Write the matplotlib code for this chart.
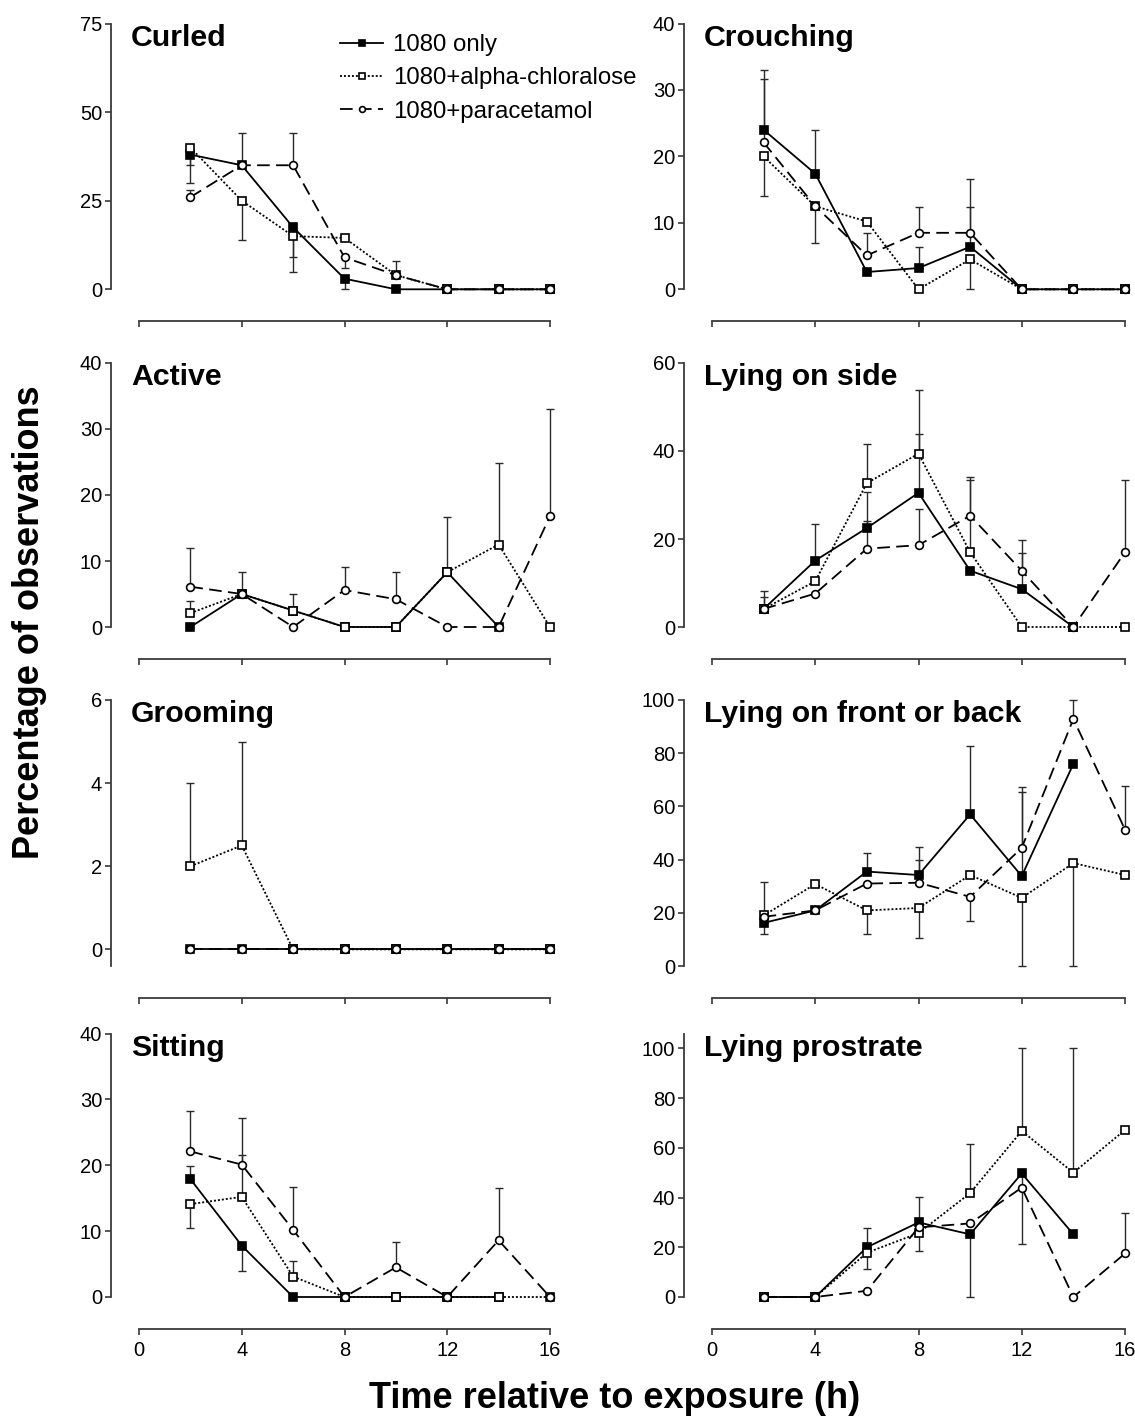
import numpy as np
import matplotlib.pyplot as plt

plt.rcParams['font.family'] = ['Liberation Sans', 'DejaVu Sans']

nan = np.nan
hours = [2, 4, 6, 8, 10, 12, 14, 16]
series_labels = ['1080 only', '1080+alpha-chloralose', '1080+paracetamol']

# values (percent of observations); bars = (series, hour, bar end)
curled_only = [38, 35, 17.5, 3, 0, 0, 0, 0]
curled_alpha = [40, 25, 15, 14.5, 4, 0, 0, 0]
curled_para = [26, 35, 35, 9, 4, 0, 0, 0]
curled_bars = [('only', 2, 30), ('alpha', 2, 35), ('para', 2, 28), ('para', 4, 44),
               ('alpha', 4, 14), ('para', 6, 44), ('alpha', 6, 9), ('only', 6, 5),
               ('para', 8, 6), ('only', 8, 0), ('alpha', 10, 8)]

crouch_only = [24, 17.4, 2.6, 3.2, 6.4, 0, 0, 0]
crouch_alpha = [20, 12.5, 10.2, 0, 4.5, 0, 0, 0]
crouch_para = [22.1, 12.5, 5.1, 8.5, 8.5, 0, 0, 0]
crouch_bars = [('only', 2, 33), ('para', 2, 31.7), ('alpha', 2, 14), ('only', 4, 24),
               ('alpha', 4, 7), ('para', 6, 8.4), ('para', 8, 12.4), ('only', 8, 6.3),
               ('para', 10, 16.6), ('only', 10, 12.4), ('alpha', 10, 0)]

active_only = [0, 5, 2.5, 0, 0, 8.3, 0, nan]
active_alpha = [2.1, 5, 2.5, 0, 0, 8.3, 12.5, 0]
active_para = [6.1, 5, 0, 5.6, 4.2, 0, 0, 16.8]
active_bars = [('para', 2, 12), ('alpha', 2, 4), ('only', 4, 8.3), ('only', 6, 5),
               ('para', 8, 9.1), ('para', 10, 8.3), ('only', 12, 16.6),
               ('alpha', 14, 24.9), ('para', 16, 33)]

side_only = [4.1, 15.1, 22.5, 30.5, 12.8, 8.6, 0, nan]
side_alpha = [4.1, 10.4, 32.7, 39.4, 17, 0, 0, 0]
side_para = [4.1, 7.6, 17.8, 18.6, 25.3, 12.8, 0, 17]
side_bars = [('only', 2, 8.1), ('alpha', 2, 6.8), ('only', 4, 23.5), ('alpha', 6, 41.7),
             ('only', 6, 30.6), ('para', 6, 24), ('alpha', 8, 53.8), ('only', 8, 43.9),
             ('para', 8, 26.9), ('para', 10, 34.1), ('alpha', 10, 33.5),
             ('para', 12, 19.7), ('only', 12, 16.8), ('para', 16, 33.5)]

groom_only = [0, 0, 0, 0, 0, 0, 0, 0]
groom_alpha = [2, 2.5, 0, 0, 0, 0, 0, 0]
groom_para = [0, 0, 0, 0, 0, 0, 0, 0]
groom_bars = [('alpha', 2, 4), ('alpha', 4, 5)]

front_only = [16.2, 20.9, 35.5, 34.2, 57, 33.8, 76, nan]
front_alpha = [19, 30.8, 20.9, 21.8, 34.2, 25.6, 38.7, 34.2]
front_para = [18.5, 20.9, 31, 31.3, 26, 44.4, 92.9, 51.3]
front_bars = [('alpha', 2, 31.7), ('only', 2, 12), ('only', 6, 42.5), ('alpha', 6, 12),
              ('only', 8, 44.8), ('para', 8, 40), ('alpha', 8, 10.4), ('only', 10, 82.8),
              ('para', 10, 17.1), ('para', 12, 67.2), ('only', 12, 65.3), ('alpha', 12, 0),
              ('para', 14, 100), ('alpha', 14, 0), ('para', 16, 67.6)]

sit_only = [17.9, 7.8, 0, 0, 0, 0, 0, nan]
sit_alpha = [14.1, 15.2, 3.1, 0, 0, 0, 0, 0]
sit_para = [22.1, 20.1, 10.2, 0, 4.5, 0, 8.6, 0]
sit_bars = [('para', 2, 28.3), ('only', 2, 19.9), ('alpha', 2, 10.5), ('para', 4, 27.2),
            ('alpha', 4, 21.6), ('only', 4, 3.9), ('para', 6, 16.7), ('alpha', 6, 5.5),
            ('para', 10, 8.4), ('para', 14, 16.6)]

prost_only = [0, 0, 20, 30, 25.2, 49.7, 25.2, nan]
prost_alpha = [0, 0, 17.8, 25.7, 41.8, 66.8, 50, 67.2]
prost_para = [0, 0, 2.5, 28, 29.6, 44, 0, 17.5]
prost_bars = [('only', 6, 27.6), ('alpha', 6, 11.4), ('only', 8, 40.3), ('alpha', 8, 18.6),
              ('alpha', 10, 61.4), ('only', 10, 0), ('alpha', 12, 100), ('only', 12, 21.3),
              ('alpha', 14, 100), ('para', 16, 33.7)]

# title, series, bars, ylim, yticks, column, row
panels = [
    ('Curled', curled_only, curled_alpha, curled_para, curled_bars, (0, 75), [0, 25, 50, 75], 0, 0),
    ('Crouching', crouch_only, crouch_alpha, crouch_para, crouch_bars, (0, 40), [0, 10, 20, 30, 40], 1, 0),
    ('Active', active_only, active_alpha, active_para, active_bars, (0, 40), [0, 10, 20, 30, 40], 0, 1),
    ('Lying on side', side_only, side_alpha, side_para, side_bars, (0, 60), [0, 20, 40, 60], 1, 1),
    ('Grooming', groom_only, groom_alpha, groom_para, groom_bars, (-0.4, 6), [0, 2, 4, 6], 0, 2),
    ('Lying on front or back', front_only, front_alpha, front_para, front_bars, (0, 100),
     [0, 20, 40, 60, 80, 100], 1, 2),
    ('Sitting', sit_only, sit_alpha, sit_para, sit_bars, (0, 40), [0, 10, 20, 30, 40], 0, 3),
    ('Lying prostrate', prost_only, prost_alpha, prost_para, prost_bars, (0, 106),
     [0, 20, 40, 60, 80, 100], 1, 3),
]

styles = {
    'only': dict(ls='-', marker='s', mfc='black'),
    'alpha': dict(ls=(0, (1.1, 1.1)), marker='s', mfc='white'),
    'para': dict(ls=(0, (7, 3.5)), marker='o', mfc='white'),
}

W, H = 1135, 1424
fig = plt.figure(figsize=(W / 100, H / 100), dpi=100)

col_px = [(139, 411), (712, 413)]
row_px = [(23.5, 289.3), (363, 627), (700, 966), (1033.5, 1297)]

axes = []
for title, only, alpha, para, bars, ylim, yticks, col, row in panels:
    x0, w = col_px[col]
    top, bot = row_px[row]
    ax = fig.add_axes([x0 / W, 1 - bot / H, w / W, (bot - top) / H])
    axes.append(ax)
    data = {'only': only, 'alpha': alpha, 'para': para}

    for key, hr, end in bars:
        y = data[key][hours.index(hr)]
        lo = max(y - end, 0)
        hi = max(end - y, 0)
        ax.errorbar([hr], [y], yerr=[[lo], [hi]], fmt='none', ecolor='#2a2a2a',
                    elinewidth=1.0, capsize=3, capthick=1.0, clip_on=False, zorder=2)

    for key, label in zip(['only', 'alpha', 'para'], series_labels):
        st = styles[key]
        ax.plot(hours, data[key], color='black', lw=1.3, ls=st['ls'], marker=st['marker'],
                ms=5.6, mfc=st['mfc'], mec='black', mew=1.2, label=label,
                clip_on=False, zorder=3)

    ax.set_xlim(0, 16)
    ax.set_ylim(*ylim)
    ax.set_xticks([0, 4, 8, 12, 16])
    ax.set_yticks(yticks)
    for s in ['top', 'right']:
        ax.spines[s].set_visible(False)
    ax.spines['left'].set_position(('outward', 20))
    ax.spines['bottom'].set_position(('outward', 23))
    for s in ['left', 'bottom']:
        ax.spines[s].set_linewidth(1.3)
        ax.spines[s].set_color('#3a3a3a')
    ax.tick_params(axis='both', length=4.5, width=1.2, color='#3a3a3a',
                   labelsize=14.5, pad=2)
    ax.tick_params(axis='x', pad=4)
    if row < 3:
        ax.tick_params(axis='x', labelbottom=False)
    ax.patch.set_alpha(0)
    ax.text(-0.02, 1.0, title, transform=ax.transAxes, fontsize=21.8, fontweight='bold',
            ha='left', va='top')

axes[0].legend(loc='upper left', bbox_to_anchor=(0.489, 0.96), frameon=False,
               fontsize=17.3, borderpad=0, borderaxespad=0, handlelength=1.8,
               handletextpad=0.4, labelspacing=0.47, markerscale=0.75)

fig.text(30 / W, 1 - 622 / H, 'Percentage of observations', rotation=90, fontsize=26,
         fontweight='bold', ha='center', va='center')
fig.text(615 / W, 1 - 1398 / H, 'Time relative to exposure (h)', fontsize=26,
         fontweight='bold', ha='center', va='center')

fig.savefig('out.png', dpi=100)
